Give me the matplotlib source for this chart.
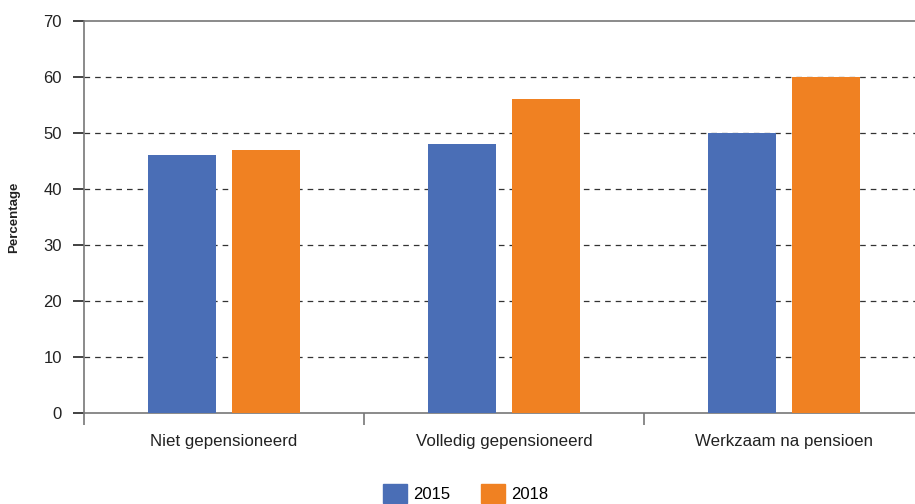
import matplotlib
matplotlib.use('Agg')
import matplotlib.pyplot as plt
import numpy as np
from matplotlib.patches import Patch

categories = ['Niet gepensioneerd', 'Volledig gepensioneerd', 'Werkzaam na pensioen']
years = ['2015', '2018']
vals_2015 = [46, 48, 50]
vals_2018 = [47, 56, 60]
colors = ['#4a6eb6', '#f08122']

plt.rcParams['font.family'] = ['Liberation Sans', 'DejaVu Sans']

fig = plt.figure(figsize=(9.15, 5.04), dpi=100)
W, H = 915, 504
ax = fig.add_axes([84/W, 1-413/H, (924-84)/W, (413-21)/H])

x = np.arange(len(categories))
w = 0.243
ax.bar(x-0.15, vals_2015, w, color=colors[0], zorder=3)
ax.bar(x+0.15, vals_2018, w, color=colors[1], zorder=3)

ax.set_xlim(-0.5, 2.5)
ax.set_ylim(0, 70)
ax.set_yticks(range(0, 71, 10))
for yv in range(10, 70, 10):
    ax.axhline(yv, color='#333333', lw=0.9, ls=(0, (4.5, 4)), zorder=1)
ax.axhline(70, color='#777777', lw=1.2, zorder=1, clip_on=False)

for s in ['top', 'right']:
    ax.spines[s].set_visible(False)
for s in ['left', 'bottom']:
    ax.spines[s].set_color('#777777')
    ax.spines[s].set_linewidth(1.2)

ax.set_xticks([-0.5, 0.5, 1.5, 2.5])
ax.set_xticklabels([])
ax.set_xticks(x, minor=True)
ax.set_xticklabels(categories, minor=True, fontsize=12.2, color='#222222')
ax.tick_params(axis='x', which='major', length=8.5, width=1.2, color='#777777')
ax.tick_params(axis='x', which='minor', length=0, pad=15)
ax.tick_params(axis='y', length=8, width=1.2, color='#222222', labelsize=12,
               labelcolor='#222222', pad=8)

fig.text(14/W, 1-217/H, 'Percentage', rotation=90, ha='center', va='center',
         fontsize=9.5, fontweight='bold', color='#222222')

handles = [Patch(color=c) for c in colors]
fig.legend(handles, years, loc='upper center', bbox_to_anchor=(465.5/W, 1-469/H),
           ncol=2, frameon=False, fontsize=12, handlelength=1.44, handleheight=1.4,
           columnspacing=1.86, handletextpad=0.36)

fig.savefig('out.png', dpi=100)
